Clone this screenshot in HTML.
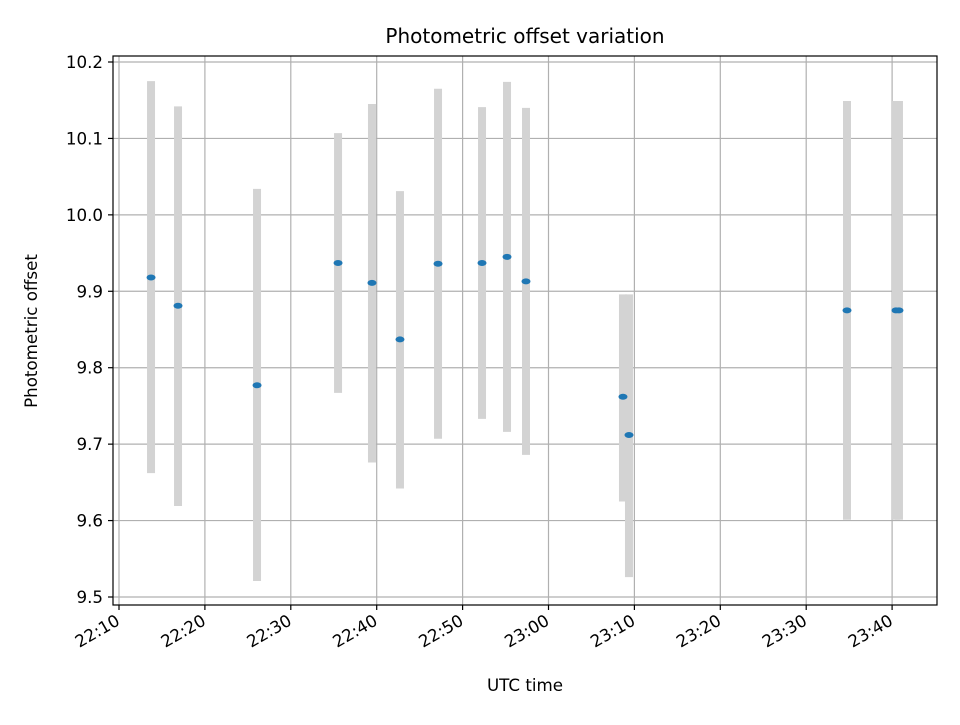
<!DOCTYPE html>
<html><head><meta charset="utf-8"><style>
html,body{margin:0;padding:0;background:#fff;}
svg text{font-family:"DejaVu Sans","Liberation Sans",sans-serif;fill:#000;}
</style></head><body>
<svg id="chart" width="960" height="720" viewBox="0 0 960 720" xmlns="http://www.w3.org/2000/svg">
<rect width="960" height="720" fill="#fff"/>
<text x="525" y="43" font-size="20" text-anchor="middle">Photometric offset variation</text>
<g id="grid"></g><g id="bars"></g><g id="pts"></g><g id="ticks"></g>
<rect x="113" y="56" width="824" height="549" fill="none" stroke="#000" stroke-width="1.2"/>
<text x="525" y="691" font-size="16.7" text-anchor="middle">UTC time</text>
<text x="0" y="0" font-size="16.7" text-anchor="middle" transform="translate(37,331) rotate(-90)">Photometric offset</text>
</svg>
<script>
// minutes after 22:00
const times = [13.73,16.87,26.07,35.5,39.45,42.71,47.14,52.26,55.17,57.38,68.67,69.37,94.75,100.45,100.8];
const values = [9.918,9.881,9.777,9.937,9.911,9.837,9.936,9.937,9.945,9.913,9.762,9.712,9.875,9.875,9.875];
const upper = [10.175,10.142,10.034,10.107,10.145,10.031,10.165,10.141,10.174,10.140,9.896,9.896,10.149,10.149,10.149];
const lower = [9.662,9.619,9.521,9.767,9.676,9.642,9.707,9.733,9.716,9.686,9.625,9.526,9.601,9.601,9.601];
const yTicks = [9.5,9.6,9.7,9.8,9.9,10.0,10.1,10.2];
const xTicks = [10,20,30,40,50,60,70,80,90,100];
const xTickLabels = ["22:10","22:20","22:30","22:40","22:50","23:00","23:10","23:20","23:30","23:40"];

const X = m => 119 + (m - 10) * 8.59;
const Y = v => 597 - (v - 9.5) / 0.7 * 535;
const NS = "http://www.w3.org/2000/svg";
function mk(parent, tag, attrs){const e=document.createElementNS(NS,tag);for(const k in attrs)e.setAttribute(k,attrs[k]);document.getElementById(parent).appendChild(e);return e;}

yTicks.forEach(v=>{
  const y=Y(v);
  const g=mk('grid','line',{x1:113,x2:937,y1:y,y2:y,stroke:'#b0b0b0','stroke-width':1.2});
  
  
  const t=mk('ticks','line',{x1:108,x2:113,y1:y,y2:y,stroke:'#000','stroke-width':1.2});
  
  
  const l=mk('ticks','text',{x:103,y:y+6,'font-size':16.7,'text-anchor':'end'});
  l.textContent=v.toFixed(1);
  
  
});
xTicks.forEach((m,i)=>{
  const x=X(m);
  const g=mk('grid','line',{x1:x,x2:x,y1:56,y2:605,stroke:'#b0b0b0','stroke-width':1.2});
  
  
  const t=mk('ticks','line',{x1:x,x2:x,y1:605,y2:610,stroke:'#000','stroke-width':1.2});
  
  
  const l=mk('ticks','text',{x:0,y:0,'font-size':16.7,'text-anchor':'end',transform:`translate(${x+2},${624}) rotate(-30)`});
  l.textContent=xTickLabels[i];
  
  
});
times.forEach((m,i)=>{
  const x=X(m);
  const b=mk('bars','line',{x1:x,x2:x,y1:Y(upper[i]),y2:Y(lower[i]),stroke:'#d3d3d3','stroke-width':8});
  
  
  const p=mk('pts','ellipse',{cx:x,cy:Y(values[i]),rx:4.5,ry:3,fill:'#1f77b4'});
  
  
});
</script>
</body></html>
